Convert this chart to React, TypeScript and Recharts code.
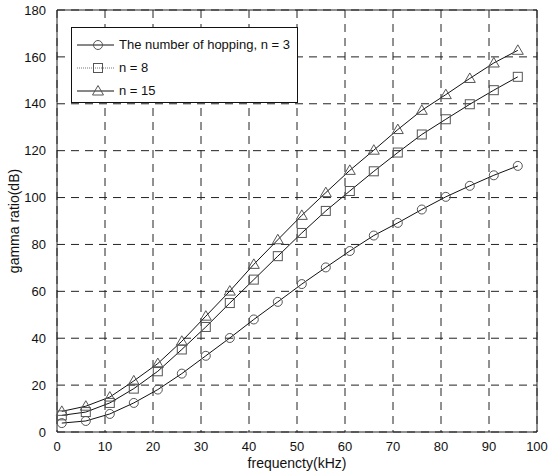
import React from "react";
import { LineChart, Line, XAxis, YAxis, CartesianGrid, ReferenceLine, Legend } from "recharts";

const freq = [1, 6, 11, 16, 21, 26, 31, 36, 41, 46, 51, 56, 61, 66, 71, 76, 81, 86, 91, 96];
const hop3 = [3.8, 4.7, 7.7, 12.4, 18.1, 24.9, 32.5, 40.1, 48, 55.5, 63.1, 70.2, 77.2, 83.8, 89.2, 94.9, 100.3, 105, 109.5, 113.5];
const hop8 = [7.1, 8.5, 12.4, 18.5, 25.9, 35.2, 44.8, 55, 65, 75, 84.9, 94.3, 102.8, 111.2, 119.2, 126.9, 133.4, 139.8, 145.8, 151.5];
const hop15 = [8.8, 11, 14.9, 21.8, 29.2, 38.7, 49.4, 60.1, 71.5, 82, 92.4, 102.1, 111.6, 120.2, 129, 137.2, 143.9, 150.8, 157.4, 162.8];

const xTicks = [0, 10, 20, 30, 40, 50, 60, 70, 80, 90, 100];
const yTicks = [0, 20, 40, 60, 80, 100, 120, 140, 160, 180];
const legendLabels = ["The number of hopping, n = 3", "n = 8", "n = 15"];

const data = freq.map((f, i) => ({ f, n3: hop3[i], n8: hop8[i], n15: hop15[i] }));

const FONT = "'Liberation Sans', Arial, sans-serif";
const MARK = "#555";

type Shape = "circle" | "square" | "triangle";

function marker(shape: Shape, cx: number, cy: number, key?: string | number) {
  if (shape === "circle") {
    return <circle key={key} cx={cx} cy={cy} r={4.5} fill="none" stroke={MARK} strokeWidth={1} />;
  }
  if (shape === "square") {
    return <rect key={key} x={cx - 4.5} y={cy - 4.5} width={9} height={9} fill="none" stroke={MARK} strokeWidth={1} />;
  }
  return (
    <polygon
      key={key}
      points={`${cx},${cy - 5.5} ${cx - 5.5},${cy + 4} ${cx + 5.5},${cy + 4}`}
      fill="none"
      stroke={MARK}
      strokeWidth={1}
    />
  );
}

const dotOf = (shape: Shape) => (p: any) => marker(shape, p.cx, p.cy, p.index);

const series: { key: string; shape: Shape; dash?: string }[] = [
  { key: "n3", shape: "circle" },
  { key: "n8", shape: "square", dash: "1 1" },
  { key: "n15", shape: "triangle" },
];

function LegendBox() {
  return (
    <div
      style={{
        width: 227,
        height: 76,
        border: "1px solid #111",
        background: "#fff",
        boxSizing: "border-box",
        padding: "5px 0 0 5px",
        fontFamily: FONT,
        fontSize: 13,
        color: "#111",
        whiteSpace: "nowrap",
      }}
    >
      {series.map((s, i) => (
        <div key={s.key} style={{ display: "flex", alignItems: "center", height: 23 }}>
          <svg width={38} height={14} style={{ marginRight: 4, flex: "none" }}>
            <line x1={0} y1={7} x2={37} y2={7} stroke={s.dash ? "#777" : "#111"} strokeDasharray={s.dash} />
            {marker(s.shape, 21, 7)}
          </svg>
          <span>{legendLabels[i]}</span>
        </div>
      ))}
    </div>
  );
}

export default function App() {
  return (
    <div style={{ position: "absolute", left: 0, top: 0, width: 553, height: 472, background: "#fff" }}>
      <LineChart width={553} height={472} data={data} margin={{ top: 10, right: 16, left: 0, bottom: 0 }}>
        <CartesianGrid stroke="#222" strokeDasharray="8 6" />
        <XAxis
          dataKey="f"
          type="number"
          domain={[0, 100]}
          ticks={xTicks}
          height={40}
          tickLine={false}
          axisLine={{ stroke: "#222" }}
          tick={{ fill: "#111", fontSize: 13, fontFamily: FONT }}
          tickMargin={4}
          label={{ value: "frequencty(kHz)", position: "insideBottom", offset: 4, fill: "#111", fontSize: 14, fontFamily: FONT }}
        />
        <YAxis
          type="number"
          domain={[0, 180]}
          ticks={yTicks}
          width={57}
          tickLine={false}
          axisLine={{ stroke: "#222" }}
          tick={{ fill: "#111", fontSize: 13, fontFamily: FONT }}
          tickMargin={5}
          label={{
            value: "gamma ratio(dB)",
            angle: -90,
            position: "insideLeft",
            offset: 14,
            fill: "#111",
            fontSize: 14,
            fontFamily: FONT,
            style: { textAnchor: "middle" },
          }}
        />
        <ReferenceLine y={180} stroke="#222" />
        <ReferenceLine x={100} stroke="#222" />
        {series.map((s) => (
          <Line
            key={s.key}
            dataKey={s.key}
            stroke="#111"
            strokeWidth={1}
            dot={dotOf(s.shape)}
            activeDot={false}
            isAnimationActive={false}
          />
        ))}
        <Legend
          layout="vertical"
          align="center"
          verticalAlign="middle"
          content={() => <LegendBox />}
          wrapperStyle={{ left: 71, top: 27, width: 227, height: 76 }}
        />
      </LineChart>
    </div>
  );
}
